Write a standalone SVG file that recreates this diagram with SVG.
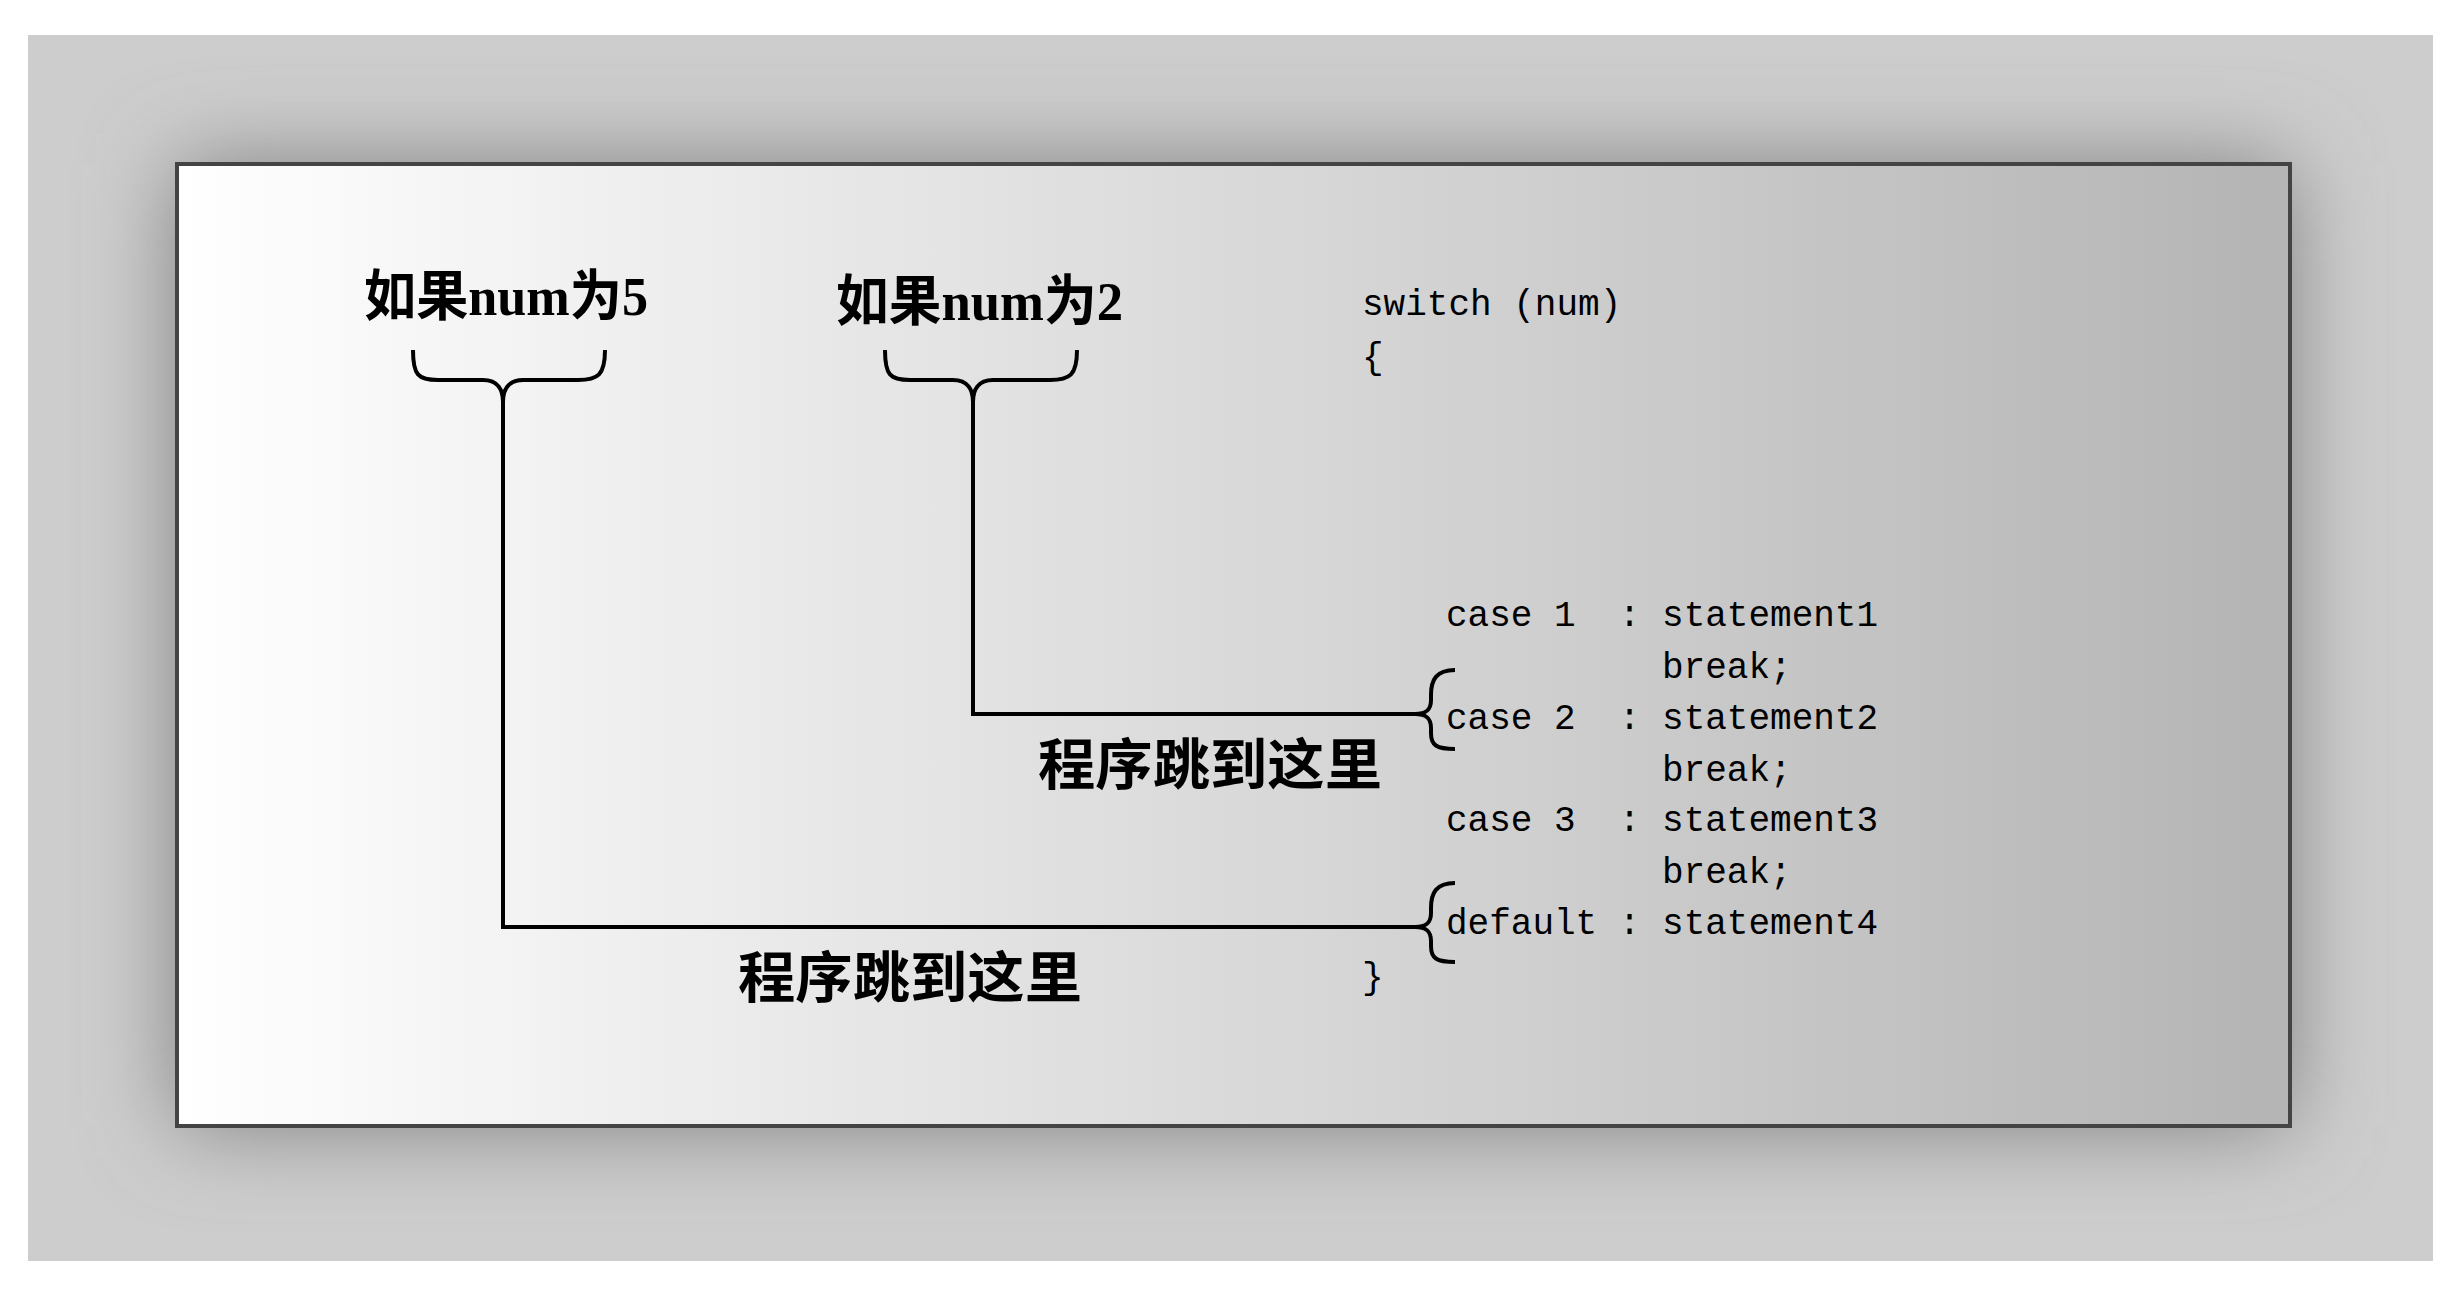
<svg xmlns="http://www.w3.org/2000/svg" width="2460" height="1289" viewBox="0 0 2460 1289">
<defs>
<linearGradient id="panel" x1="0" y1="0" x2="1" y2="0">
<stop offset="0" stop-color="#ffffff"/><stop offset="1" stop-color="#b4b4b4"/>
</linearGradient>
<filter id="blur" x="-20%" y="-20%" width="140%" height="140%"><feGaussianBlur stdDeviation="45"/></filter>
<clipPath id="fr"><rect x="28" y="35" width="2405" height="1226"/></clipPath>
</defs>
<style>
.cjk{font-family:"Liberation Serif","Noto Sans CJK SC",serif;font-size:55px;font-weight:bold;fill:#000}
.code{font-family:"Liberation Mono","DejaVu Sans Mono",monospace;font-size:36px;fill:#000;white-space:pre}
.ln{fill:none;stroke:#000;stroke-width:4}
.br{fill:none;stroke:#000;stroke-width:4}
</style>
<rect width="2460" height="1289" fill="#fff"/>
<g id="frame">
<rect x="28" y="35" width="2405" height="1226" fill="#cdcdcd"/>
<g clip-path="url(#fr)"><rect x="177" y="164" width="2113" height="962" fill="#808080" filter="url(#blur)"/></g>
<rect x="177" y="164" width="2113" height="962" fill="url(#panel)" stroke="#444" stroke-width="4"/>
</g>
<g id="label5"><text class="cjk" x="364" y="315" textLength="284" lengthAdjust="spacingAndGlyphs">如果num为5</text></g>
<g id="label2"><text class="cjk" x="836" y="320" textLength="287" lengthAdjust="spacingAndGlyphs">如果num为2</text></g>
<g id="brace5"><path class="br" d="M413 350 C413 375 418 380 438 380 L483 380 C498 380 503 390 503 402 C503 390 508 380 523 380 L578 380 C598 380 605 375 605 350"/></g>
<g id="brace2"><path class="br" d="M885 350 C885 375 890 380 910 380 L953 380 C968 380 973 390 973 402 C973 390 978 380 993 380 L1050 380 C1070 380 1077 375 1077 350"/></g>
<g id="code">
<text class="code" x="1362" y="315">switch (num)</text>
<text class="code" x="1362" y="368">{</text>
<text class="code" x="1446" y="626">case 1  : statement1</text>
<text class="code" x="1662" y="678">break;</text>
<text class="code" x="1446" y="729">case 2  : statement2</text>
<text class="code" x="1662" y="781">break;</text>
<text class="code" x="1446" y="831">case 3  : statement3</text>
<text class="code" x="1662" y="883">break;</text>
<text class="code" x="1446" y="934">default : statement4</text>
<text class="code" x="1362" y="988">}</text>
<path class="br" d="M1455 670 C1436 670 1431 680 1431 695 L1431 700 C1431 710 1426 714 1415 714 C1426 714 1431 718 1431 728 L1431 733 C1431 745 1436 749 1455 749"/>
<path class="br" d="M1455 883 C1436 883 1431 893 1431 908 L1431 913 C1431 923 1426 927 1415 927 C1426 927 1431 931 1431 941 L1431 946 C1431 958 1436 962 1455 962"/>
</g>
<g id="connectors">
<path class="ln" d="M503 402 L503 927 L1415 927"/>
<path class="ln" d="M973 402 L973 714 L1415 714"/>
</g>
<g id="jump1"><text class="cjk" x="1038" y="784" font-size="57" textLength="344" lengthAdjust="spacingAndGlyphs">程序跳到这里</text></g>
<g id="jump2"><text class="cjk" x="738" y="997" font-size="57" textLength="344" lengthAdjust="spacingAndGlyphs">程序跳到这里</text></g>
</svg>
